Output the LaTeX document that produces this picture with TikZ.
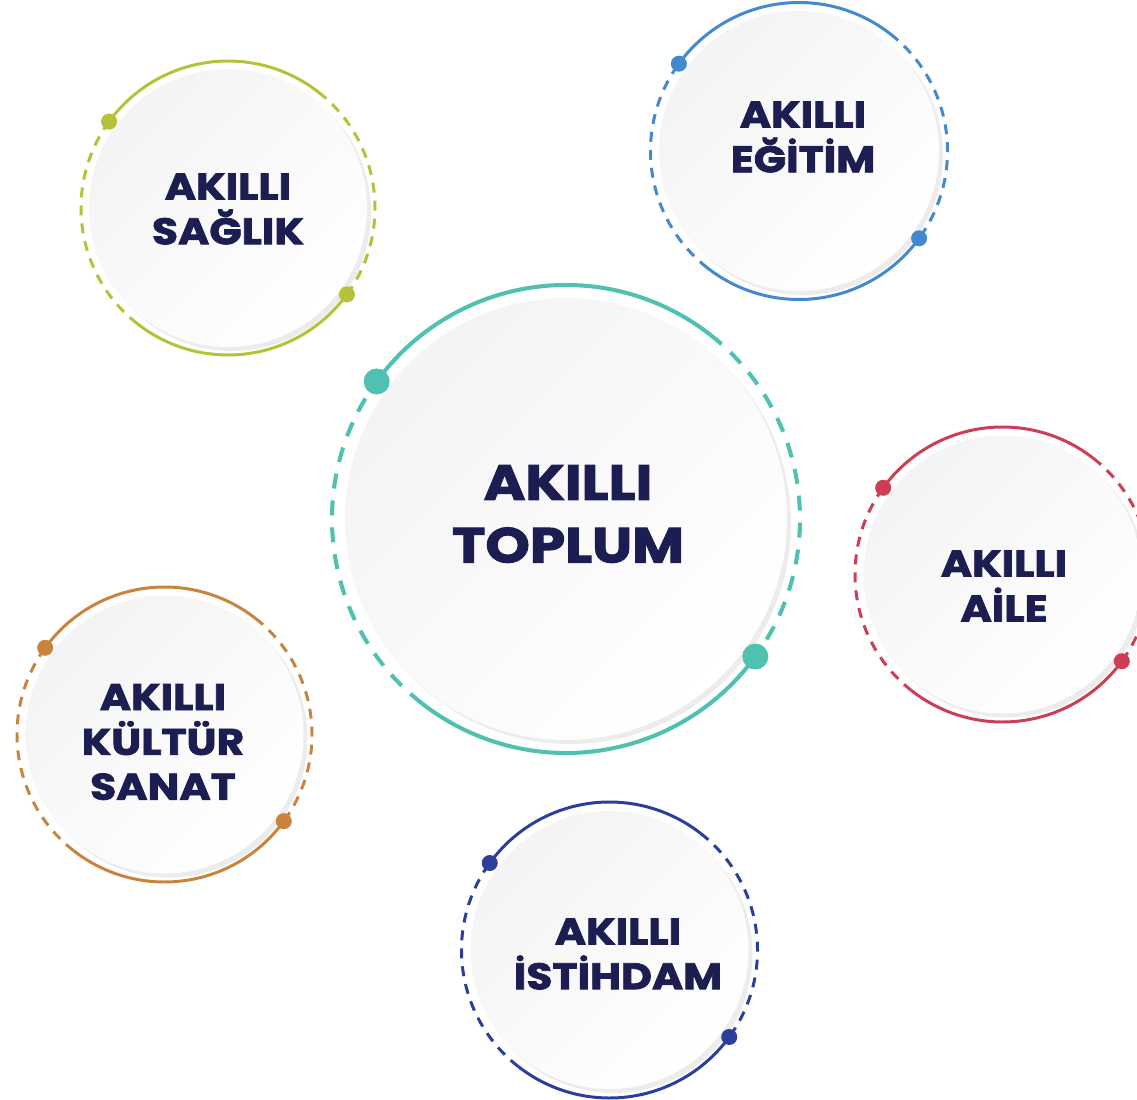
\documentclass[tikz,border=0pt]{standalone}
\usepackage{fontspec}
\setmainfont{Poppins}[BoldFeatures={FakeBold=2.2, FakeStretch=1.15}]
\usetikzlibrary{calc,shadows}

\definecolor{textnavy}{RGB}{28,29,80}
\definecolor{cteal}{RGB}{79,193,176}
\definecolor{clime}{RGB}{181,194,56}
\definecolor{cblue}{RGB}{66,137,208}
\definecolor{cred}{RGB}{205,62,86}
\definecolor{corange}{RGB}{200,132,62}
\definecolor{cnavy}{RGB}{44,62,155}

\tikzset{
  disk/.style={circle, inner sep=0pt, shading=axis, top color=gray!9, bottom color=white, shading angle=45,
    drop shadow={shadow xshift=0.08cm, shadow yshift=-0.08cm, fill=gray!30, opacity=0.5}},
  bigtext/.style={text=textnavy, align=center, font=\fontsize{28}{35.7}\selectfont\bfseries},
  smalltext/.style={text=textnavy, align=center, font=\fontsize{21}{25.5}\selectfont\bfseries},
}

\begin{document}
\begin{tikzpicture}
  \useasboundingbox (0,0) rectangle (22.74,-22);
  % white disks
  \node[disk, minimum size=8.84cm] (toplum) at (11.32,-10.38) {};
  \node[disk, minimum size=5.56cm] (saglik) at (4.56,-4.16) {};
  \node[disk, minimum size=5.6cm] (egitim) at (15.98,-3.02) {};
  \node[disk, minimum size=5.56cm] (aile) at (20.05,-11.49) {};
  \node[disk, minimum size=5.56cm] (kultur) at (3.29,-14.69) {};
  \node[disk, minimum size=5.56cm] (istihdam) at (12.19,-19.0) {};
  % rings: solid, dashed, solid, dashed, with two dots
  \foreach \c/\r/\col/\w/\d/\dl in {toplum/4.68/cteal/2.3pt/0.26/0.3, saglik/2.94/clime/1.7pt/0.16/0.2,
      egitim/2.97/cblue/1.7pt/0.16/0.2, aile/2.95/cred/1.7pt/0.16/0.2,
      kultur/2.95/corange/1.7pt/0.16/0.2, istihdam/2.96/cnavy/1.7pt/0.16/0.2}{
    \draw[\col, line width=\w] ($(\c)+(144:\r)$) arc (144:52:\r cm);
    \draw[\col, line width=\w, dash pattern=on \dl cm off 0.8*\dl cm] ($(\c)+(52:\r)$) arc (52:-36:\r cm);
    \draw[\col, line width=\w] ($(\c)+(-36:\r)$) arc (-36:-128:\r cm);
    \draw[\col, line width=\w, dash pattern=on \dl cm off 0.8*\dl cm] ($(\c)+(-128:\r)$) arc (-128:-216:\r cm);
    \fill[\col] ($(\c)+(144:\r)$) circle (\d);
    \fill[\col] ($(\c)+(-36:\r)$) circle (\d);
  }
  % labels
  \node[bigtext] (toplumlabel) at ($(toplum)+(0.04,0.1)$) {AKILLI\\TOPLUM};
  \node[smalltext] (sagliklabel) at ($(saglik)+(0,-0.02)$) {AKILLI\\SAĞLIK};
  \node[smalltext] (egitimlabel) at ($(egitim)+(0.08,0.28)$) {AKILLI\\EĞİTİM};
  \node[smalltext] (ailelabel) at ($(aile)+(0.03,-0.23)$) {AKILLI\\AİLE};
  \node[smalltext] (kulturlabel) at ($(kultur)+(-0.03,-0.15)$) {AKILLI\\KÜLTÜR\\SANAT};
  \node[smalltext] (istihdamlabel) at ($(istihdam)+(0.17,-0.08)$) {AKILLI\\İSTİHDAM};
\end{tikzpicture}
\end{document}
